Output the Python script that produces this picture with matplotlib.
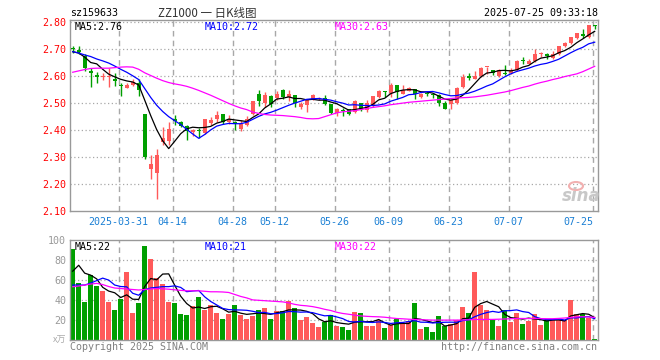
import matplotlib
matplotlib.use("Agg")
import matplotlib.pyplot as plt
from matplotlib.transforms import blended_transform_factory
from matplotlib.patches import Ellipse
import numpy as np

# ---------------- data ----------------
opens = [2.705, 2.695, 2.675, 2.62, 2.605, 2.595, 2.595, 2.59, 2.566, 2.557,
         2.568, 2.575, 2.46, 2.255, 2.243, 2.357, 2.36, 2.44, 2.432, 2.416,
         2.392, 2.398, 2.39, 2.428, 2.44, 2.458, 2.43, 2.43, 2.405, 2.42,
         2.458, 2.532, 2.501, 2.528, 2.52, 2.55, 2.523, 2.529, 2.486, 2.494,
         2.514, 2.514, 2.518, 2.496, 2.465, 2.474, 2.477, 2.467, 2.5, 2.474,
         2.492, 2.523, 2.545, 2.539, 2.566, 2.535, 2.545, 2.551, 2.521, 2.539,
         2.535, 2.530, 2.502, 2.496, 2.499, 2.56, 2.6, 2.59, 2.60, 2.633,
         2.622, 2.60, 2.61, 2.61, 2.622, 2.66, 2.646, 2.655, 2.681, 2.682,
         2.668, 2.68, 2.71, 2.722, 2.742, 2.757, 2.746, 2.788]
highs = [2.71, 2.71, 2.68, 2.63, 2.615, 2.61, 2.63, 2.61, 2.575, 2.574,
         2.59, 2.59, 2.46, 2.31, 2.33, 2.41, 2.43, 2.455, 2.435, 2.418,
         2.405, 2.407, 2.442, 2.448, 2.47, 2.46, 2.455, 2.433, 2.436, 2.452,
         2.508, 2.549, 2.541, 2.529, 2.545, 2.553, 2.55, 2.53, 2.504, 2.51,
         2.535, 2.523, 2.529, 2.496, 2.483, 2.483, 2.477, 2.51, 2.5, 2.51,
         2.525, 2.55, 2.545, 2.574, 2.566, 2.566, 2.56, 2.551, 2.539, 2.545,
         2.539, 2.532, 2.508, 2.515, 2.558, 2.606, 2.61, 2.618, 2.634, 2.635,
         2.622, 2.626, 2.64, 2.628, 2.658, 2.67, 2.664, 2.70, 2.688, 2.686,
         2.692, 2.71, 2.726, 2.746, 2.76, 2.775, 2.788, 2.788]
lows = [2.685, 2.68, 2.62, 2.56, 2.575, 2.585, 2.56, 2.565, 2.525, 2.555,
        2.562, 2.528, 2.295, 2.22, 2.145, 2.345, 2.345, 2.42, 2.41, 2.364,
        2.377, 2.372, 2.387, 2.42, 2.432, 2.423, 2.423, 2.40, 2.396, 2.417,
        2.455, 2.491, 2.485, 2.485, 2.51, 2.515, 2.508, 2.486, 2.48, 2.468,
        2.51, 2.51, 2.492, 2.459, 2.453, 2.454, 2.455, 2.464, 2.471, 2.467,
        2.486, 2.519, 2.523, 2.523, 2.517, 2.533, 2.543, 2.515, 2.518, 2.527,
        2.518, 2.488, 2.478, 2.478, 2.496, 2.557, 2.584, 2.588, 2.598, 2.606,
        2.603, 2.597, 2.604, 2.606, 2.619, 2.643, 2.643, 2.652, 2.67, 2.664,
        2.664, 2.676, 2.706, 2.718, 2.736, 2.739, 2.742, 2.775]
closes = [2.70, 2.69, 2.63, 2.61, 2.595, 2.60, 2.60, 2.58, 2.563, 2.568,
          2.577, 2.548, 2.30, 2.275, 2.31, 2.37, 2.405, 2.435, 2.417, 2.396,
          2.400, 2.396, 2.44, 2.438, 2.455, 2.43, 2.442, 2.424, 2.423, 2.442,
          2.506, 2.507, 2.53, 2.498, 2.535, 2.522, 2.532, 2.50, 2.497, 2.51,
          2.529, 2.52, 2.498, 2.464, 2.477, 2.472, 2.461, 2.508, 2.48, 2.50,
          2.525, 2.545, 2.54, 2.566, 2.541, 2.548, 2.556, 2.533, 2.533, 2.535,
          2.529, 2.499, 2.48, 2.511, 2.557, 2.598, 2.594, 2.60, 2.63, 2.635,
          2.61, 2.624, 2.606, 2.622, 2.654, 2.657, 2.655, 2.68, 2.684, 2.674,
          2.68, 2.71, 2.722, 2.746, 2.758, 2.748, 2.788, 2.785]

ma5 = [2.69, 2.685, 2.67, 2.65, 2.645, 2.625, 2.607, 2.597, 2.588, 2.582,
       2.578, 2.567, 2.511, 2.454, 2.402, 2.361, 2.332, 2.359, 2.387, 2.405,
       2.411, 2.409, 2.410, 2.414, 2.426, 2.432, 2.441, 2.438, 2.435, 2.432,
       2.447, 2.460, 2.482, 2.497, 2.515, 2.518, 2.523, 2.517, 2.517, 2.512,
       2.514, 2.511, 2.511, 2.504, 2.498, 2.486, 2.474, 2.476, 2.480, 2.484,
       2.495, 2.512, 2.518, 2.535, 2.543, 2.548, 2.550, 2.549, 2.542, 2.541,
       2.537, 2.526, 2.515, 2.511, 2.515, 2.529, 2.548, 2.572, 2.596, 2.611,
       2.614, 2.620, 2.621, 2.619, 2.623, 2.633, 2.639, 2.654, 2.666, 2.670,
       2.675, 2.686, 2.694, 2.706, 2.723, 2.737, 2.752, 2.765]
ma10 = [2.69, 2.685, 2.678, 2.672, 2.663, 2.656, 2.648, 2.637, 2.625, 2.614,
        2.601, 2.587, 2.554, 2.521, 2.492, 2.469, 2.450, 2.435, 2.421, 2.403,
        2.386, 2.370, 2.384, 2.401, 2.415, 2.421, 2.425, 2.424, 2.424, 2.429,
        2.440, 2.451, 2.460, 2.466, 2.474, 2.483, 2.492, 2.500, 2.507, 2.514,
        2.516, 2.517, 2.514, 2.511, 2.505, 2.500, 2.493, 2.494, 2.492, 2.491,
        2.491, 2.493, 2.497, 2.507, 2.514, 2.521, 2.531, 2.533, 2.539, 2.542,
        2.543, 2.538, 2.532, 2.527, 2.528, 2.533, 2.537, 2.544, 2.553, 2.563,
        2.571, 2.584, 2.597, 2.608, 2.617, 2.623, 2.629, 2.637, 2.643, 2.647,
        2.654, 2.662, 2.674, 2.686, 2.697, 2.706, 2.719, 2.725]
ma30 = [2.614, 2.619, 2.624, 2.628, 2.629, 2.629, 2.629, 2.631, 2.633, 2.634,
        2.633, 2.625, 2.612, 2.602, 2.592, 2.583, 2.576, 2.571, 2.567, 2.562,
        2.555, 2.547, 2.538, 2.529, 2.519, 2.509, 2.499, 2.490, 2.482, 2.476,
        2.467, 2.462, 2.458, 2.456, 2.455, 2.454, 2.452, 2.450, 2.447, 2.443,
        2.442, 2.443, 2.450, 2.457, 2.464, 2.468, 2.470, 2.472, 2.476, 2.480,
        2.484, 2.487, 2.490, 2.494, 2.497, 2.500, 2.503, 2.505, 2.507, 2.509,
        2.511, 2.513, 2.515, 2.517, 2.519, 2.520, 2.521, 2.523, 2.526, 2.529,
        2.533, 2.537, 2.541, 2.546, 2.552, 2.558, 2.563, 2.570, 2.576, 2.581,
        2.587, 2.592, 2.598, 2.603, 2.608, 2.616, 2.626, 2.636]

volume = [91.4, 57.3, 38.1, 65.1, 54.3, 48.9, 38.1, 29.7, 40.8, 68.1,
          27.0, 37.1, 94.4, 81.3, 61.7, 56.0, 38.1, 37.1, 25.6, 24.6,
          33.7, 42.8, 30.0, 34.4, 27.0, 20.6, 26.0, 34.7, 24.6, 20.9,
          23.6, 29.7, 32.0, 20.9, 28.7, 29.0, 39.1, 32.0, 19.9, 22.6,
          16.9, 12.8, 17.5, 24.6, 13.5, 12.5, 9.4, 27.7, 26.6, 13.5,
          13.5, 19.6, 11.5, 14.5, 20.6, 15.5, 18.5, 36.8, 10.5, 12.5,
          7.4, 23.6, 13.8, 15.5, 19.6, 32.7, 26.6, 68.1, 34.4, 30.0,
          19.6, 13.5, 29.7, 17.5, 26.6, 15.5, 18.5, 25.6, 14.5, 19.6,
          19.6, 19.6, 19.6, 39.8, 25.6, 25.6, 21.6, 0.5]
vma5 = [69, 75, 67, 65, 61.2, 52.7, 48.9, 47.2, 42.4, 45.1,
        40.7, 40.5, 53.5, 61.6, 60.3, 66.1, 66.3, 54.8, 43.7, 36.3,
        31.8, 32.8, 31.3, 33.1, 33.6, 31.0, 27.6, 28.5, 26.6, 25.4,
        26.0, 26.7, 26.2, 25.4, 27.0, 28.1, 29.9, 29.9, 29.7, 28.5,
        26.1, 20.8, 17.9, 18.9, 17.1, 16.2, 15.5, 17.5, 17.9, 17.9,
        18.1, 20.2, 16.9, 14.5, 15.9, 16.3, 16.1, 21.2, 20.4, 18.8,
        17.1, 18.2, 13.6, 14.6, 16.0, 21.0, 21.6, 32.5, 36.3, 38.4,
        35.7, 33.1, 25.4, 22.1, 21.4, 20.6, 21.6, 20.7, 20.1, 18.7,
        19.6, 19.8, 18.7, 23.8, 25.0, 26.2, 25.5, 22.0]
vma10 = [55, 55, 55, 57, 59.5, 62, 60, 55, 53.5, 53.2,
         46.7, 44.7, 50.4, 52.0, 52.7, 53.4, 53.4, 54.2, 52.6, 48.3,
         49.0, 49.5, 43.1, 38.4, 34.9, 31.4, 30.2, 29.9, 29.8, 29.5,
         28.5, 27.2, 27.4, 26.0, 26.2, 27.0, 28.3, 28.1, 27.6, 27.8,
         27.1, 25.4, 23.9, 24.3, 22.8, 21.1, 18.2, 17.7, 18.4, 17.5,
         17.2, 17.8, 17.2, 16.2, 16.9, 17.2, 18.2, 19.1, 17.5, 17.4,
         16.7, 17.1, 17.4, 17.5, 17.4, 19.1, 19.9, 23.0, 25.4, 27.2,
         28.4, 27.4, 29.0, 29.2, 29.9, 28.2, 27.3, 23.1, 21.1, 20.1,
         20.1, 20.7, 19.7, 21.9, 21.8, 22.8, 23.1, 21.0]
vma30 = [53.3, 54, 55, 56, 56.7, 55.5, 53.5, 52, 51.5, 51,
         50.5, 50, 50.5, 51, 51.5, 51.2, 50.8, 50.2, 49.6, 49.2,
         49.2, 49.2, 48.7, 48.2, 48.2, 48, 47.5, 45.5, 43.5, 42,
         40, 39.6, 39.2, 38.8, 38.4, 38, 37, 35.5, 34.5, 34,
         33.2, 32, 30.5, 29.3, 27.5, 26.3, 25.5, 24.6, 23.8, 23.4,
         23.1, 22.9, 22.5, 21.8, 21.2, 20.9, 20.5, 20.2, 20, 19.8,
         19.6, 19.6, 19.6, 19.6, 19.6, 19.7, 19.9, 20.2, 20.3, 20.3,
         20.3, 20.5, 20.7, 21, 21.2, 21.2, 21.2, 21.2, 21.1, 21,
         21, 21.3, 21.7, 22.3, 22.9, 23, 22.7, 22.3]

date_labels = ["2025-03-31", "04-14", "04-28", "05-12", "05-26",
               "06-09", "06-23", "07-07", "07-25"]
date_index = [8, 17, 27, 34, 44, 53, 63, 73, 87]
price_ticks = [2.10, 2.20, 2.30, 2.40, 2.50, 2.60, 2.70, 2.80]
volume_ticks = [20, 40, 60, 80, 100]

code = "sz159633"
title = "ZZ1000 一 日K线图"
stamp = "2025-07-25 09:33:18"
price_ma_labels = ["MA5:2.76", "MA10:2.72", "MA30:2.63"]
volume_ma_labels = ["MA5:22", "MA10:21", "MA30:22"]
unit_label = "x万"

# ---------------- style ----------------
W, H = 660, 360
MONO = "DejaVu Sans Mono"
FS = 7.2
RED = "#ff5a5a"
GREEN = "#009f00"
GRID = "#a8a8a8"
FRAME = "#999999"
MA_COLORS = ["black", "#0000ff", "#ff00ff"]

def fx(px):
    return px / W

def fy(py):
    return 1 - py / H

fig = plt.figure(figsize=(W / 100, H / 100), dpi=100)
fig.patch.set_facecolor("white")

ax = fig.add_axes([fx(70.3), fy(211.4), (597.7 - 70.3) / W, (211.4 - 20) / H])
axv = fig.add_axes([fx(70.3), fy(339.5), (597.7 - 70.3) / W, (339.5 - 240) / H])

n = len(closes)
x = np.arange(n)
o = np.array(opens); c = np.array(closes); hi = np.array(highs); lo = np.array(lows)
up = c >= o
cols = np.where(up, RED, GREEN)

for a in (ax, axv):
    a.set_xlim(-0.4, n - 0.5)
    for s in a.spines.values():
        s.set_color(FRAME)
        s.set_linewidth(1.0)
    a.set_xticks([])
    a.tick_params(axis="y", length=0, pad=3)
    for i in date_index:
        a.axvline(i - 0.35, color=GRID, lw=1.0, dashes=(4, 3), zorder=0.5)

# price panel
ax.set_ylim(2.10, 2.807)
ax.set_yticks(price_ticks)
ax.set_yticklabels([f"{t:.2f}" for t in price_ticks], family=MONO, fontsize=FS, color="red")
for t in price_ticks[1:]:
    ax.axhline(t, color=GRID, lw=0.9, dashes=(1, 2), zorder=0.5)

ax.vlines(x, lo, hi, colors=cols, lw=1.0, zorder=2)
body_h = np.maximum(np.abs(c - o), 0.003)
ax.bar(x, body_h, bottom=np.minimum(o, c), width=0.72, color=cols, linewidth=0, zorder=3)

for series, col in zip([ma5, ma10, ma30], MA_COLORS):
    ax.plot(x, series, color=col, lw=0.9, zorder=4)

trans = blended_transform_factory(ax.transData, ax.transAxes)
for lab, i in zip(date_labels, date_index):
    ha = "right" if i == n - 1 else "center"
    off = 1 if i == n - 1 else 0
    ax.annotate(lab, xy=(i - 0.35, 0), xycoords=trans, xytext=(off, -10.5),
                textcoords="offset pixels", ha=ha, va="center",
                family=MONO, fontsize=FS, color="#1a7fd4", annotation_clip=False)

# volume panel
axv.set_ylim(0, 100.5)
axv.set_yticks(volume_ticks)
axv.set_yticklabels([str(t) for t in volume_ticks], family=MONO, fontsize=FS, color="#999999")
for t in volume_ticks[:-1]:
    axv.axhline(t, color=GRID, lw=0.9, dashes=(1, 2), zorder=0.5)
axv.bar(x, volume, width=0.8, color=cols, linewidth=0, zorder=2)
for series, col in zip([vma5, vma10, vma30], MA_COLORS):
    axv.plot(x, series, color=col, lw=0.9, zorder=4)

# header / labels
fig.text(fx(70), fy(13), code, ha="left", va="center", family=MONO, fontsize=FS, color="black")
fig.text(fx(207), fy(13), title, ha="center", va="center",
         family=["Noto Sans CJK SC", "DejaVu Sans"], fontsize=8.3, color="#333333")
fig.text(fx(597.7), fy(13), stamp, ha="right", va="center", family=MONO, fontsize=FS, color="black")

for lab, px, col in zip(price_ma_labels, [75, 204.3, 334.7], MA_COLORS):
    fig.text(fx(px), fy(26.5), lab, ha="left", va="center", family=MONO, fontsize=FS, color=col)
for lab, px, col in zip(volume_ma_labels, [75, 204.3, 334.7], MA_COLORS):
    fig.text(fx(px), fy(246.5), lab, ha="left", va="center", family=MONO, fontsize=FS, color=col)

fig.text(fx(66), fy(340), unit_label, ha="right", va="center",
         family=["Noto Sans CJK SC", "DejaVu Sans"], fontsize=6.5, color="#aaaaaa")
fig.text(fx(70), fy(346.5), "Copyright 2025 SINA.COM", ha="left", va="center",
         family=MONO, fontsize=FS, color="#808080")
fig.text(fx(597.5), fy(346.5), "http://finance.sina.com.cn", ha="right", va="center",
         family=MONO, fontsize=FS, color="#808080")

# sina watermark
fig.text(fx(581), fy(196), "sina", ha="center", va="center", fontsize=12,
         fontweight="bold", style="italic", color="#c8c8c8", family="DejaVu Sans")
fig.patches.append(Ellipse((fx(576), fy(186)), 14 / W, 8 / H, transform=fig.transFigure,
                           fill=False, ec="#f2b0b0", lw=1.5))

fig.savefig("out.png", dpi=100, facecolor="white")
